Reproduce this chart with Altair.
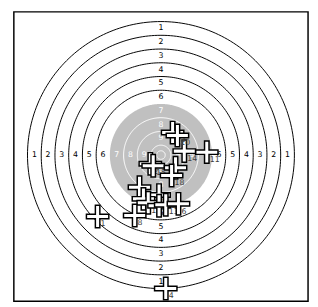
import altair as alt
import numpy as np
import pandas as pd

# ISSF air-pistol style target, dimensions in mm
ring_numbers = [1, 2, 3, 4, 5, 6, 7, 8, 9, 10]
ring_radii = [77.75, 69.75, 61.75, 53.75, 45.75, 37.75, 29.75, 21.75, 13.75, 5.75]
inner_ten = 2.5
black_from = 7

# shots (mm from centre)
shot_labels = ["1", "4", "11", "14", "12", "10", "2", "15", "9", "18",
               "16", "7", "5", "17", "3", "13", "6", "8"]
shot_x = [-36.9, 2.8, 26.7, 13.6, 6.8, 9.6, -6.2, -4.5, 8.5, 6.2,
          -12.5, -1.1, -10.2, -7.4, -1.1, 2.8, 10.2, -15.3]
shot_y = [-35.8, -77.7, 1.7, 2.3, 13.1, 11.4, -5.1, -6.2, -7.4, -11.9,
          -18.7, -23.3, -25.5, -27.8, -29.5, -28.9, -28.4, -35.2]

XDOM = [-85.7, 85.7]
YDOM = [-85.1, 83.4]
xs = alt.Scale(domain=XDOM, nice=False, zero=False)
ys = alt.Scale(domain=YDOM, nice=False, zero=False)
X = alt.X("x:Q", scale=xs, axis=None)
Y = alt.Y("y:Q", scale=ys, axis=None)

theta = np.linspace(0, 2 * np.pi, 241)


def ring_df(radii):
    rows = []
    for n, r in enumerate(radii):
        for i, t in enumerate(theta):
            rows.append({"ring": n, "i": i, "x": r * np.cos(t), "y": r * np.sin(t)})
    return pd.DataFrame(rows)


black_rings = ring_df([r for n, r in zip(ring_numbers, ring_radii) if n < black_from])
white_rings = ring_df([r for n, r in zip(ring_numbers, ring_radii) if n > black_from] + [inner_ten])

# gray disk (ring 7 and inward)
half = np.linspace(0, np.pi, 181)
R7 = ring_radii[black_from - 1]
disk = pd.DataFrame({"x": R7 * np.cos(half), "y": R7 * np.sin(half), "y2": -R7 * np.sin(half)})


def label_df(sel):
    lab = []
    for n, r in zip(ring_numbers[:9], ring_radii[:9]):
        if not sel(n):
            continue
        rm = r - 4.0
        for (dx, dy) in [(0, 1), (0, -1), (1, 0), (-1, 0)]:
            lab.append({"x": dx * rm, "y": dy * rm, "t": str(n)})
    return pd.DataFrame(lab)


disk_ch = alt.Chart(disk).mark_area(color="#c0c0c0", opacity=1).encode(x=X, y=Y, y2="y2:Q")
bring_ch = alt.Chart(black_rings).mark_line(strokeWidth=1, color="black").encode(
    x=X, y=Y, detail="ring:N", order="i:Q")
wring_ch = alt.Chart(white_rings).mark_line(strokeWidth=1, color="white").encode(
    x=X, y=Y, detail="ring:N", order="i:Q")
blab_ch = alt.Chart(label_df(lambda n: n < black_from)).mark_text(
    font="DejaVu Sans", fontSize=8, baseline="middle", align="center", color="black").encode(
    x=X, y=Y, text="t:N")
wlab_ch = alt.Chart(label_df(lambda n: n >= black_from)).mark_text(
    font="DejaVu Sans", fontSize=8, baseline="middle", align="center", color="white").encode(
    x=X, y=Y, text="t:N")

shots = pd.DataFrame({"n": list(range(len(shot_labels))), "label": shot_labels, "x": shot_x, "y": shot_y})
cross_path = "M-1,-0.2H-0.2V-1H0.2V-0.2H1V0.2H0.2V1H-0.2V0.2H-1Z"

layers = [disk_ch, bring_ch, wring_ch, blab_ch, wlab_ch]
for k in range(len(shot_labels)):
    base = alt.Chart(shots).transform_filter(alt.datum.n == k)
    layers.append(base.mark_point(shape=cross_path, filled=True, fill="white", stroke="black",
                                  strokeWidth=1.5, size=529, opacity=1).encode(x=X, y=Y))
    layers.append(base.mark_text(font="DejaVu Sans", fontSize=8, align="left", baseline="middle",
                                 dx=3, dy=8, color="#404040").encode(x=X, y=Y, text="label:N"))

chart = alt.layer(*layers).properties(
    width=302, height=297,
    padding={"left": 6, "top": 0, "right": 2, "bottom": 2},
    autosize=alt.AutoSizeParams(type="none"),
).configure_view(stroke="black", strokeWidth=1.5)

chart.save("out.html", embed_options={"renderer": "svg", "actions": False})
